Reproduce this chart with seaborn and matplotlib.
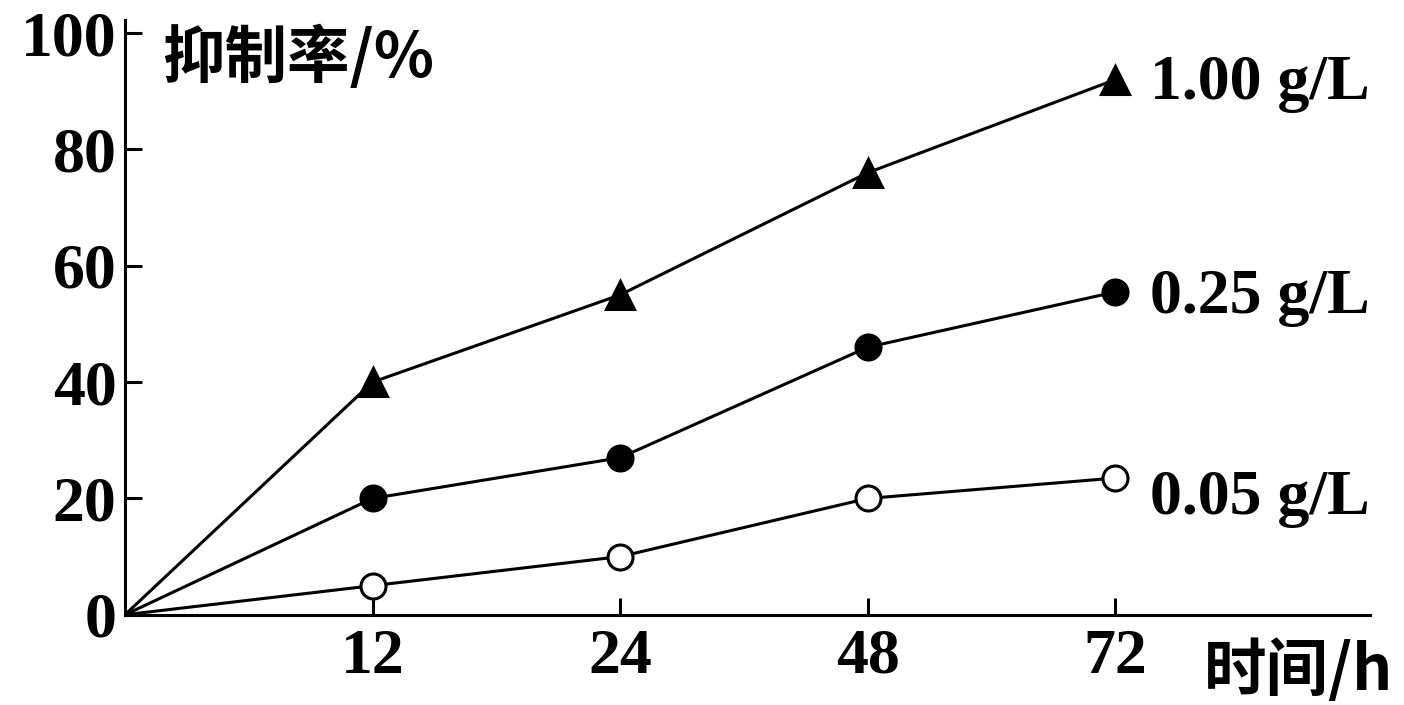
import numpy as np
import pandas as pd
import seaborn as sns
import matplotlib
matplotlib.use("Agg")
import matplotlib.pyplot as plt

# data
times = [0, 12, 24, 48, 72]
rate_100 = [0, 40, 55, 76, 92]
rate_025 = [0, 20, 27, 46, 55.5]
rate_005 = [0, 5, 10, 20, 23.5]
series_names = ["1.00 g/L", "0.25 g/L", "0.05 g/L"]

pos = np.arange(len(times))
df = pd.DataFrame({
    "pos": np.tile(pos, 3),
    "rate": rate_100 + rate_025 + rate_005,
    "conc": np.repeat(series_names, len(times)),
})

sns.set_theme(style="ticks")
plt.rcParams["font.family"] = ["Liberation Serif", "Noto Sans CJK SC"]
plt.rcParams["font.weight"] = "bold"
plt.rcParams["text.color"] = "black"
plt.rcParams["xtick.color"] = "black"
plt.rcParams["ytick.color"] = "black"
plt.rcParams["axes.edgecolor"] = "black"

fig = plt.figure(figsize=(14.04, 7.05), dpi=100)
ax = fig.add_axes([0.089, 0.128, 0.887, 0.844])

# marker look and label nudge (in y units) per series
marker_styles = {
    "1.00 g/L": dict(marker="^", face="black", size=20, nudge=-0.8),
    "0.25 g/L": dict(marker="o", face="black", size=18, nudge=-1.0),
    "0.05 g/L": dict(marker="o", face="white", size=18, nudge=-3.6),
}

for name in series_names:
    sub = df[df["conc"] == name]
    sty = marker_styles[name]
    sns.lineplot(data=sub, x="pos", y="rate", ax=ax, color="black", linewidth=2.2,
                 marker=sty["marker"], markersize=sty["size"],
                 markerfacecolor=sty["face"], markeredgecolor="black",
                 markeredgewidth=2.2, markevery=list(range(1, len(times))),
                 legend=False)
    ax.text(4.14, sub["rate"].iloc[-1] + sty["nudge"], name, fontsize=46,
            fontweight="bold", va="center", ha="left",
            family="Liberation Serif")

ax.set_xlim(0, 5.03)
ax.set_ylim(0, 102.3)
ax.set_xticks(pos[1:])
ax.set_xticklabels([str(t) for t in times[1:]])
ax.set_yticks([0, 20, 40, 60, 80, 100])
ax.tick_params(axis="both", direction="in", length=12, width=2.2, labelsize=46)
ax.tick_params(axis="x", pad=10)
ax.tick_params(axis="y", pad=6)
for lab in ax.get_xticklabels() + ax.get_yticklabels():
    lab.set_fontweight("bold")
    lab.set_family("Liberation Serif")
ax.set_xlabel("")
ax.set_ylabel("")
sns.despine(ax=ax)
for s in ["left", "bottom"]:
    ax.spines[s].set_linewidth(2.2)

ax.text(0.03, 0.99, "抑制率/%", transform=ax.transAxes, fontsize=45,
        fontweight="bold", va="top", ha="left",
        family=["Noto Sans CJK SC", "Liberation Serif"])
ax.text(0.866, -0.095, "时间/h", transform=ax.transAxes, fontsize=45,
        fontweight="bold", va="center", ha="left",
        family=["Noto Sans CJK SC", "Liberation Serif"])

fig.savefig("out.png", dpi=100)
